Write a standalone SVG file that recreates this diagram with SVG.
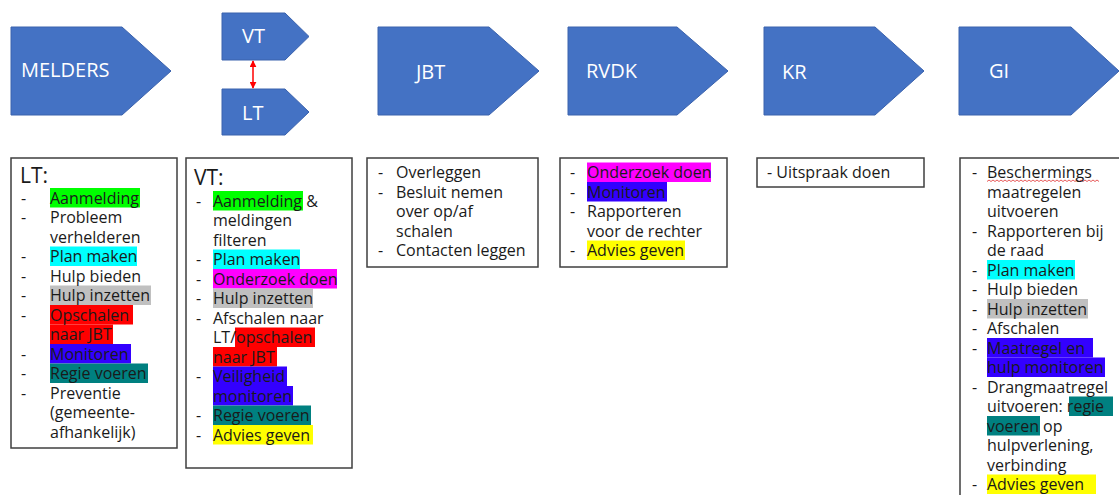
<svg xmlns="http://www.w3.org/2000/svg" width="1119" height="495" viewBox="0 0 1119 495">
<style>
.t{font-family:"Open Sans",sans-serif;font-size:16px;fill:#1a1a1a}
.hd{font-family:"Open Sans",sans-serif;font-size:21px;fill:#1a1a1a}
.lbl{font-family:"Open Sans",sans-serif;font-size:20px;fill:#ffffff}
.shape{fill:#4472C4;stroke:#3A62AD;stroke-width:1}
.box{fill:#ffffff;stroke:#3f3f3f;stroke-width:1.5}
.g{fill:#00FF00}.c{fill:#00FFFF}.gr{fill:#C0C0C0}.r{fill:#FF0000}.b{fill:#3300FF}.tl{fill:#008080}.m{fill:#FF00FF}.y{fill:#FFFF00}
</style>
<defs>
<marker id="ah" viewBox="0 0 10 10" refX="9" refY="5" markerWidth="7" markerHeight="7" orient="auto-start-reverse" markerUnits="userSpaceOnUse">
<path d="M0,0 L10,5 L0,10 z" fill="#FF0000"/>
</marker>
</defs>
<rect width="1119" height="495" fill="#ffffff"/>

<g id="melders"><polygon class="shape" points="11,27 122,27 171,71 122,115 11,115"/><text class="lbl" x="21" y="77">MELDERS</text></g>
<g id="vt"><polygon class="shape" points="222,13 285,13 309,36.5 285,60 222,60"/><text class="lbl" x="242" y="43">VT</text></g>
<g id="lt"><polygon class="shape" points="222,89 285,89 309,112 285,135 222,135"/><text class="lbl" x="242" y="120">LT</text></g>
<g id="jbt"><polygon class="shape" points="378,27 489,27 539,71 489,115 378,115"/><text class="lbl" x="416" y="79">JBT</text></g>
<g id="rvdk"><polygon class="shape" points="568,27 677,27 728,71 677,115 568,115"/><text class="lbl" x="586" y="78">RVDK</text></g>
<g id="kr"><polygon class="shape" points="764,27 875,27 924,71 875,115 764,115"/><text class="lbl" x="782" y="79">KR</text></g>
<g id="gi"><polygon class="shape" points="959,27 1071,27 1119,71 1071,115 959,115"/><text class="lbl" x="989" y="78">GI</text></g>

<g id="connectors">
<line x1="253" y1="61" x2="253" y2="88" stroke="#FF0000" stroke-width="1.5" marker-start="url(#ah)" marker-end="url(#ah)"/>
</g>

<g id="lt-box">
<rect class="box" x="11" y="158" width="166" height="290"/>
<rect class="g" x="50" y="188" width="90" height="19.5"/>
<rect class="c" x="50" y="246.5" width="87" height="19.5"/>
<rect class="gr" x="50" y="285.5" width="101" height="19.5"/>
<rect class="r" x="50" y="305" width="83" height="19.5"/>
<rect class="r" x="50" y="324.5" width="63" height="19.5"/>
<rect class="b" x="50" y="344" width="81" height="19.5"/>
<rect class="tl" x="50" y="363.5" width="98" height="19.5"/>
<text class="hd" x="20" y="183">LT:</text>
<text class="t" y="203.5"><tspan x="21">-</tspan><tspan x="50">Aanmelding</tspan></text>
<text class="t" y="223"><tspan x="21">-</tspan><tspan x="50">Probleem</tspan></text>
<text class="t" x="50" y="242.5">verhelderen</text>
<text class="t" y="262"><tspan x="21">-</tspan><tspan x="50">Plan maken</tspan></text>
<text class="t" y="281.5"><tspan x="21">-</tspan><tspan x="50">Hulp bieden</tspan></text>
<text class="t" y="301"><tspan x="21">-</tspan><tspan x="50">Hulp inzetten</tspan></text>
<text class="t" y="320.5"><tspan x="21">-</tspan><tspan x="50">Opschalen</tspan></text>
<text class="t" x="50" y="340">naar JBT</text>
<text class="t" y="359.5"><tspan x="21">-</tspan><tspan x="50">Monitoren</tspan></text>
<text class="t" y="379"><tspan x="21">-</tspan><tspan x="50">Regie voeren</tspan></text>
<text class="t" y="398.5"><tspan x="21">-</tspan><tspan x="50">Preventie</tspan></text>
<text class="t" x="50" y="418">(gemeente-</text>
<text class="t" x="50" y="437.5">afhankelijk)</text>
</g>

<g id="vt-box">
<rect class="box" x="186" y="158" width="166" height="310"/>
<rect class="g" x="213" y="191" width="90" height="19.5"/>
<rect class="c" x="213" y="249.5" width="87" height="19.5"/>
<rect class="m" x="213" y="269" width="124" height="19.5"/>
<rect class="gr" x="213" y="288.5" width="100" height="19.5"/>
<rect class="r" x="235" y="327.5" width="80" height="19.5"/>
<rect class="r" x="213" y="347" width="64" height="19.5"/>
<rect class="b" x="213" y="366.5" width="74" height="19.5"/>
<rect class="b" x="213" y="386" width="80" height="19.5"/>
<rect class="tl" x="213" y="405.5" width="98" height="19.5"/>
<rect class="y" x="213" y="425" width="100" height="19.5"/>
<text class="hd" x="194" y="185">VT:</text>
<text class="t" y="206.5"><tspan x="196">-</tspan><tspan x="213">Aanmelding &amp;</tspan></text>
<text class="t" x="213" y="226">meldingen</text>
<text class="t" x="213" y="245.5">filteren</text>
<text class="t" y="265"><tspan x="196">-</tspan><tspan x="213">Plan maken</tspan></text>
<text class="t" y="284.5"><tspan x="196">-</tspan><tspan x="213">Onderzoek doen</tspan></text>
<text class="t" y="304"><tspan x="196">-</tspan><tspan x="213">Hulp inzetten</tspan></text>
<text class="t" y="323.5"><tspan x="196">-</tspan><tspan x="213">Afschalen naar</tspan></text>
<text class="t" x="213" y="343">LT/opschalen</text>
<text class="t" x="213" y="362.5">naar JBT</text>
<text class="t" y="382"><tspan x="196">-</tspan><tspan x="213">Veiligheid</tspan></text>
<text class="t" x="213" y="401.5">monitoren</text>
<text class="t" y="421"><tspan x="196">-</tspan><tspan x="213">Regie voeren</tspan></text>
<text class="t" y="440.5"><tspan x="196">-</tspan><tspan x="213">Advies geven</tspan></text>
</g>

<g id="jbt-box">
<rect class="box" x="367" y="158" width="171" height="109"/>
<text class="t" y="178"><tspan x="378">-</tspan><tspan x="396">Overleggen</tspan></text>
<text class="t" y="197.5"><tspan x="378">-</tspan><tspan x="396">Besluit nemen</tspan></text>
<text class="t" x="396" y="217">over op/af</text>
<text class="t" x="396" y="236.5">schalen</text>
<text class="t" y="256"><tspan x="378">-</tspan><tspan x="396">Contacten leggen</tspan></text>
</g>

<g id="rvdk-box">
<rect class="box" x="560" y="158" width="167" height="109"/>
<rect class="m" x="587" y="162.5" width="124" height="19.5"/>
<rect class="b" x="587" y="182" width="80" height="19.5"/>
<rect class="y" x="587" y="240.5" width="98" height="19.5"/>
<text class="t" y="178"><tspan x="570">-</tspan><tspan x="587">Onderzoek doen</tspan></text>
<text class="t" y="197.5"><tspan x="570">-</tspan><tspan x="587">Monitoren</tspan></text>
<text class="t" y="217"><tspan x="570">-</tspan><tspan x="587">Rapporteren</tspan></text>
<text class="t" x="587" y="236.5">voor de rechter</text>
<text class="t" y="256"><tspan x="570">-</tspan><tspan x="587">Advies geven</tspan></text>
</g>

<g id="kr-box">
<rect class="box" x="757" y="158" width="167" height="29"/>
<text class="t" x="767" y="178">- Uitspraak doen</text>
</g>

<g id="gi-box">
<rect class="box" x="960" y="158" width="170" height="350"/>
<rect class="c" x="987" y="260" width="88" height="19.5"/>
<rect class="gr" x="987" y="299" width="101" height="19.5"/>
<rect class="b" x="987" y="338" width="106" height="19.5"/>
<rect class="b" x="987" y="357.5" width="118" height="19.5"/>
<rect class="tl" x="1069" y="396.5" width="44" height="19.5"/>
<rect class="tl" x="987" y="416" width="53" height="19.5"/>
<rect class="y" x="987" y="474.5" width="109" height="19.5"/>
<path d="M987,181.5 l2,-1.5 l2,1.5 l2,-1.5 l2,1.5 l2,-1.5 l2,1.5 l2,-1.5 l2,1.5 l2,-1.5 l2,1.5 l2,-1.5 l2,1.5 l2,-1.5 l2,1.5 l2,-1.5 l2,1.5 l2,-1.5 l2,1.5 l2,-1.5 l2,1.5 l2,-1.5 l2,1.5 l2,-1.5 l2,1.5 l2,-1.5 l2,1.5 l2,-1.5 l2,1.5 l2,-1.5 l2,1.5 l2,-1.5 l2,1.5 l2,-1.5 l2,1.5 l2,-1.5 l2,1.5 l2,-1.5 l2,1.5 l2,-1.5 l2,1.5 l2,-1.5 l2,1.5 l2,-1.5 l2,1.5 l2,-1.5 l2,1.5 l2,-1.5 l2,1.5 l2,-1.5 l2,1.5 l2,-1.5 l2,1.5 l2,-1.5 l2,1.5 l2,-1.5 l2,1.5" fill="none" stroke="#E03030" stroke-width="0.8"/>
<text class="t" y="178"><tspan x="972">-</tspan><tspan x="987">Beschermings</tspan></text>
<text class="t" x="987" y="197.5">maatregelen</text>
<text class="t" x="987" y="217">uitvoeren</text>
<text class="t" y="236.5"><tspan x="972">-</tspan><tspan x="987">Rapporteren bij</tspan></text>
<text class="t" x="987" y="256">de raad</text>
<text class="t" y="275.5"><tspan x="972">-</tspan><tspan x="987">Plan maken</tspan></text>
<text class="t" y="295"><tspan x="972">-</tspan><tspan x="987">Hulp bieden</tspan></text>
<text class="t" y="314.5"><tspan x="972">-</tspan><tspan x="987">Hulp inzetten</tspan></text>
<text class="t" y="334"><tspan x="972">-</tspan><tspan x="987">Afschalen</tspan></text>
<text class="t" y="353.5"><tspan x="972">-</tspan><tspan x="987">Maatregel en</tspan></text>
<text class="t" x="987" y="373">hulp monitoren</text>
<text class="t" y="392.5"><tspan x="972">-</tspan><tspan x="987">Drangmaatregel</tspan></text>
<text class="t" x="987" y="412">uitvoeren: regie</text>
<text class="t" x="987" y="431.5">voeren op</text>
<text class="t" x="987" y="451">hulpverlening,</text>
<text class="t" x="987" y="470.5">verbinding</text>
<text class="t" y="490"><tspan x="972">-</tspan><tspan x="987">Advies geven</tspan></text>
</g>
</svg>
